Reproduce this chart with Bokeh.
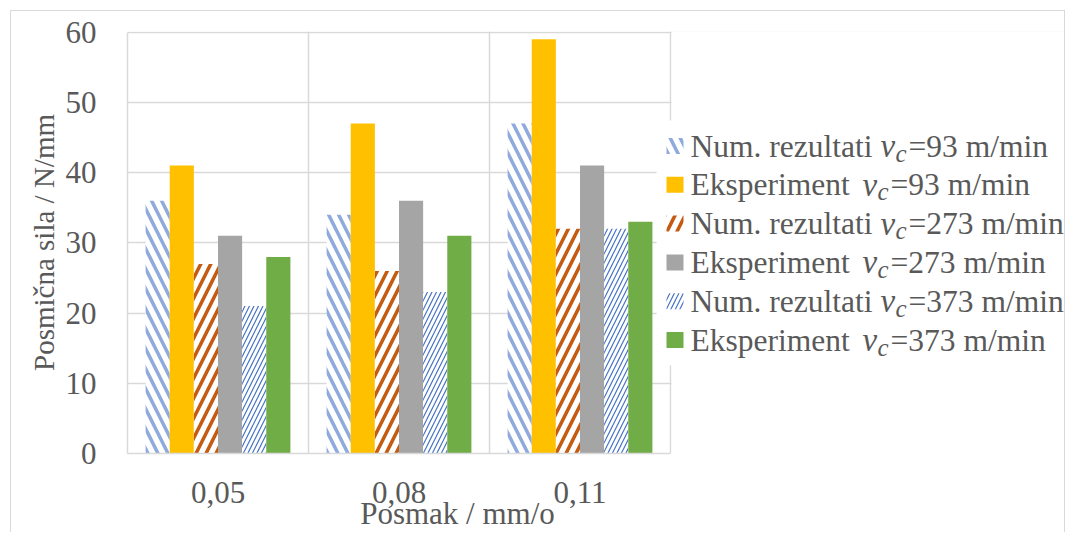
from bokeh.plotting import figure
from bokeh.models import Range1d, FixedTicker
from bokeh.core.properties import value
from bokeh.embed import file_html
from bokeh.resources import INLINE

# ---- data ----
categories = ["0,05", "0,08", "0,11"]
num_93 = [36, 34, 47]
exp_93 = [41, 47, 59]
num_273 = [27, 26, 32]
exp_273 = [31, 36, 41]
num_373 = [21, 23, 32]
exp_373 = [28, 31, 33]
y_ticks = [0, 10, 20, 30, 40, 50, 60]
legend_names = ["Num. rezultati", "Eksperiment", "Num. rezultati",
                "Eksperiment", "Num. rezultati", "Eksperiment"]
legend_speeds = ["=93 m/min", "=93 m/min", "=273 m/min",
                 "=273 m/min", "=373 m/min", "=373 m/min"]
x_title = "Posmak / mm/o"
y_title = "Posmična sila / N/mm"

values = [num_93, exp_93, num_273, exp_273, num_373, exp_373]

# ---- styles ----
styles = [
    dict(fill_color="white", hatch_pattern="left_diagonal_line", hatch_color="#8FAADC", hatch_scale=20, hatch_weight=3.5),
    dict(fill_color="#FFC000"),
    dict(fill_color="white", hatch_pattern="right_diagonal_line", hatch_color="#C55A11", hatch_scale=20, hatch_weight=3.5),
    dict(fill_color="#A5A5A5"),
    dict(fill_color="white", hatch_pattern="right_diagonal_line", hatch_color="#4472C4", hatch_scale=9, hatch_weight=1.2),
    dict(fill_color="#70AD47"),
]
TEXT = "#595959"
GRID = "#d9d9d9"
FONT = "Liberation Serif"

W, H = 1055, 522
ML, MB, MT = 116, 80, 20
cat_px = 181.0
x_end = (W - ML) / cat_px
y_end = 60.1
px_per_y = (H - MB - MT) / y_end

p = figure(width=W, height=H, output_backend="svg", toolbar_location=None,
           x_range=Range1d(0, x_end), y_range=Range1d(0, y_end),
           min_border_left=ML, min_border_right=0, min_border_top=MT, min_border_bottom=MB,
           background_fill_color="white", border_fill_color="white")
p.outline_line_color = None
p.margin = (10, 0, 0, 10)
p.styles = {"border-top": "1px solid #d9d9d9", "border-left": "1px solid #d9d9d9",
            "border-right": "1px solid #d9d9d9"}

gap = 0.1
bw = (1 - 2 * gap) / 6
for j, (vals, st) in enumerate(zip(values, styles)):
    xs = [i + gap + (j + 0.5) * bw for i in range(len(categories))]
    p.vbar(x=xs, top=vals, width=bw, line_color=None, **st)

# cover right region (beyond the plot area) and legend background
p.quad(left=[3.006], right=[x_end], bottom=[0], top=[y_end], fill_color="white", line_color=None)
leg_left = 2.923
p.quad(left=[leg_left], right=[x_end], bottom=[(453 - 365) / px_per_y], top=[(453 - 120) / px_per_y],
       fill_color="white", line_color=None)

# legend (row centres)
mid0 = (453 - 145.5) / px_per_y
step = 38.8 / px_per_y
sw_l, sw_r = (666 - 127) / cat_px, (683 - 127) / cat_px
sw_h = 16 / px_per_y
tx = (690 - 127) / cat_px
common = dict(text_font=value(FONT), text_color=TEXT, text_baseline="middle", text_align="left")
for k in range(6):
    my = mid0 - k * step
    p.quad(left=[sw_l], right=[sw_r], bottom=[my - sw_h / 2], top=[my + sw_h / 2],
           line_color=None, **styles[k])
    is_num = legend_names[k].startswith("Num")
    v_off = 190 if is_num else 172
    c_off = v_off + 15
    e_off = v_off + 28
    p.text(x=[tx], y=[my], text=[legend_names[k]], text_font_size=value("31.5px"), **common)
    p.text(x=[tx], y=[my], text=["v"], x_offset=v_off, text_font_size=value("33px"),
           text_font_style="italic", **common)
    p.text(x=[tx], y=[my], text=["c"], x_offset=c_off, y_offset=7, text_font_size=value("25px"),
           text_font_style="italic", **common)
    p.text(x=[tx], y=[my], text=[legend_speeds[k]], x_offset=e_off, text_font_size=value("31.5px"), **common)

# axes
xa = p.xaxis[0]
xa.ticker = FixedTicker(ticks=[i + 0.5 for i in range(len(categories))])
xa.major_label_overrides = {i + 0.5: c for i, c in enumerate(categories)}
xa.bounds = (0, 3)
xa.axis_line_color = GRID
xa.axis_line_width = 1.5
xa.major_tick_line_color = None
xa.minor_tick_line_color = None
xa.major_label_standoff = 22
xa.major_label_text_font = FONT
xa.major_label_text_font_size = "31px"
xa.major_label_text_color = TEXT
# the title sits left of the frame centre; em spaces pad it to the right
xa.axis_label = x_title + "\u2003" * 9
xa.axis_label_text_font = FONT
xa.axis_label_text_font_size = "31px"
xa.axis_label_text_font_style = "normal"
xa.axis_label_text_color = TEXT
xa.axis_label_standoff = -10

ya = p.yaxis[0]
ya.ticker = FixedTicker(ticks=y_ticks)
ya.bounds = (0, 60)
ya.axis_line_color = GRID
ya.axis_line_width = 1.5
ya.major_tick_line_color = None
ya.minor_tick_line_color = None
ya.major_label_standoff = 25
ya.major_label_text_font = FONT
ya.major_label_text_font_size = "31px"
ya.major_label_text_color = TEXT
ya.axis_label = y_title
ya.axis_label_text_font = FONT
ya.axis_label_text_font_size = "29px"
ya.axis_label_text_font_style = "normal"
ya.axis_label_text_color = TEXT
ya.axis_label_standoff = 3

p.xgrid.ticker = FixedTicker(ticks=[0, 1, 2, 3])
p.xgrid.grid_line_color = GRID
p.xgrid.grid_line_width = 1.5
p.ygrid.grid_line_color = GRID
p.ygrid.grid_line_width = 1.5

open("out.html", "w").write(file_html(p, INLINE))
